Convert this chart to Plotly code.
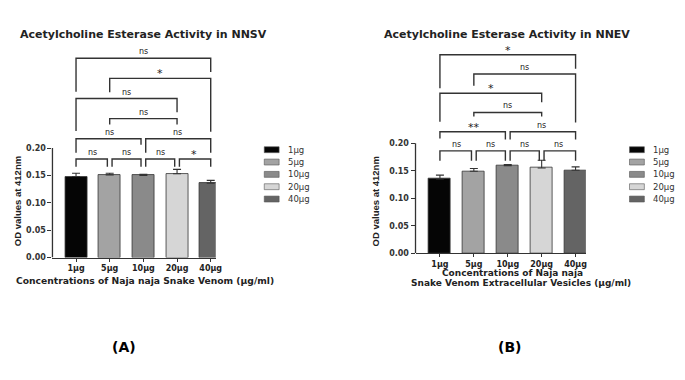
import plotly.graph_objects as go

# ---------------- data ----------------
categories = ["1µg", "5µg", "10µg", "20µg", "40µg"]
nnsv_mean = [0.148, 0.151, 0.150, 0.153, 0.136]
nnsv_sd = [0.006, 0.003, 0.002, 0.008, 0.005]
nnev_mean = [0.135, 0.149, 0.159, 0.155, 0.151]
nnev_sd = [0.007, 0.005, 0.002, 0.014, 0.006]

# comparisons: (group i, group j, significance label)
nnsv_comparisons = [(0, 1, "ns"), (1, 2, "ns"), (2, 3, "ns"), (3, 4, "*"),
                    (0, 2, "ns"), (2, 4, "ns"), (1, 3, "ns"), (0, 3, "ns"),
                    (1, 4, "*"), (0, 4, "ns")]
nnev_comparisons = [(0, 1, "ns"), (1, 2, "ns"), (2, 3, "ns"), (3, 4, "ns"),
                    (0, 2, "**"), (2, 4, "ns"), (1, 3, "ns"), (0, 3, "*"),
                    (1, 4, "ns"), (0, 4, "*")]

titles = ["Acetylcholine Esterase Activity in NNSV",
          "Acetylcholine Esterase Activity in NNEV"]
y_title = "OD values at 412nm"
y_ticks = [0.0, 0.05, 0.10, 0.15, 0.20]

# ---------------- styles / layout ----------------
W, H = 685, 380
FONT = "DejaVu Sans, Liberation Sans, sans-serif"
FONT_N = "Liberation Sans, Arial, sans-serif"
bar_colors = ["#050505", "#a3a3a3", "#8a8a8a", "#d6d6d6", "#646464"]
LINE = "#333333"

# bracket stacking (level per comparison) and leg drops in px (left, right)
levels = [0, 0, 0, 0, 1, 1, 2, 3, 4, 5]
drops_A = [(8, 8), (8, 8), (8, 8), (8, 8), (14, 6), (14, 14), (6, 6), (33, 14), (14, 54), (34, 14)]
drops_B = [(10, 10), (10, 10), (10, 10), (10, 10), (7, 8), (8, 8), (4, 4), (29, 9), (12, 49), (34, 14)]

# panel geometry in px
panels = [
    dict(x0=53.0, x1=218.0, xr=[-0.7, 4.15], ybot=261.0, ppu=555.0,
         base=0.180, step=0.0368, mean=nnsv_mean, sd=nnsv_sd,
         comps=nnsv_comparisons, drops=drops_A, xa="x", ya="y",
         title_x=145, xt=[("Concentrations of Naja naja Snake Venom (µg/ml)", 146, 284)],
         ytx=17, leg_x=267, label="(A)", lab_x=125),
    dict(x0=419.8, x1=591.8, xr=[-0.72, 4.3], ybot=256.7, ppu=558.0,
         base=0.186, step=0.0349, mean=nnev_mean, sd=nnev_sd,
         comps=nnev_comparisons, drops=drops_B, xa="x2", ya="y2",
         title_x=512, xt=[("Concentrations of Naja naja", 518, 277),
                          ("Snake Venom Extracellular Vesicles (µg/ml)", 526, 287)],
         ytx=379, leg_x=636, label="(B)", lab_x=515),
]
YTOP = 0.39


def px(x, y):
    return x / W, 1 - y / H


fig = go.Figure()
shapes, annotations = [], []
layout_axes = {}

for k, p in enumerate(panels):
    xs = list(range(len(categories)))
    fig.add_trace(go.Bar(
        x=xs, y=p["mean"], width=0.65, xaxis=p["xa"], yaxis=p["ya"],
        marker=dict(color=bar_colors, line=dict(color=LINE, width=0.8)),
        error_y=dict(type="data", array=p["sd"], arrayminus=[0] * len(xs),
                     symmetric=False, color=LINE, thickness=1.1, width=4),
        showlegend=False, hoverinfo="skip"))

    # brackets
    off = 0.07
    bx, by = [], []
    for n, (i, j, lab) in enumerate(p["comps"]):
        lv = levels[n]
        yh = p["base"] + lv * p["step"]
        same = [c for m, c in enumerate(p["comps"]) if levels[m] == lv and m != n]
        xl = i + (off if any(c[1] == i for c in same) else 0)
        xr = j - (off if any(c[0] == j for c in same) else 0)
        dl, dr = p["drops"][n]
        bx += [xl, xl, xr, xr, None]
        by += [yh - dl / p["ppu"], yh, yh, yh - dr / p["ppu"], None]
        annotations.append(dict(
            x=(i + j) / 2, y=yh, xref=p["xa"], yref=p["ya"], text=lab,
            showarrow=False, xanchor="center", yanchor="bottom",
            yshift=0 if lab == "ns" else -4,
            font=dict(family=FONT, size=8 if lab == "ns" else 11, color="#222")))
    fig.add_trace(go.Scatter(x=bx, y=by, mode="lines", xaxis=p["xa"], yaxis=p["ya"],
                             line=dict(color=LINE, width=1.4), showlegend=False,
                             hoverinfo="skip"))

    ax_suffix = "" if k == 0 else "2"
    ytop_px = p["ybot"] - YTOP * p["ppu"]
    layout_axes["xaxis" + ax_suffix] = dict(
        domain=[p["x0"] / W, p["x1"] / W], range=p["xr"], anchor=p["ya"],
        tickvals=list(range(len(categories))), ticktext=categories,
        ticks="outside", ticklen=3, tickcolor=LINE, showline=True,
        linecolor=LINE, linewidth=1.3, showgrid=False, zeroline=False,
        tickfont=dict(family=FONT, size=8, color="#222", weight="bold"))
    layout_axes["yaxis" + ax_suffix] = dict(
        domain=[1 - p["ybot"] / H, 1 - ytop_px / H], range=[0, YTOP],
        anchor=p["xa"], tickvals=y_ticks, ticktext=[f"{v:.2f}" for v in y_ticks],
        ticks="outside", ticklen=4, tickcolor=LINE, showline=False,
        showgrid=False, zeroline=False,
        tickfont=dict(family=FONT, size=8, color="#333", weight="bold"))
    # y-axis line only up to 0.20
    shapes.append(dict(type="line", xref=p["xa"] + " domain", x0=0, x1=0,
                       yref=p["ya"], y0=0, y1=max(y_ticks),
                       line=dict(color=LINE, width=1.3)))

    def add_text(x, y, text, size, weight="normal", color="#222", angle=0,
                 xanchor="center", family=FONT):
        ax, ay = px(x, y)
        annotations.append(dict(x=ax, y=ay, xref="paper", yref="paper", text=text,
                                showarrow=False, xanchor=xanchor, yanchor="middle",
                                textangle=angle,
                                font=dict(family=family, size=size, color=color,
                                          weight=weight)))

    add_text(p["title_x"], 35, titles[k], 11, "bold")
    for txt, tx, ty in p["xt"]:
        add_text(tx, ty, txt, 9.2 if k == 0 else 9, "bold")
    add_text(p["ytx"], 204, y_title, 9.5, "bold", angle=-90, family=FONT_N)
    # legend (manual)
    for r, (cat, col) in enumerate(zip(categories, bar_colors)):
        cy = 151.7 + r * 12.5
        shapes.append(dict(type="rect", xref="paper", yref="paper",
                           x0=p["leg_x"] / W, x1=(p["leg_x"] + 15) / W,
                           y0=1 - (cy + 3) / H, y1=1 - (cy - 3) / H,
                           fillcolor=col, line=dict(color="#555", width=0.6)))
        add_text(p["leg_x"] + 22, cy, cat, 8.5, color="#333", xanchor="left")
    add_text(p["lab_x"], 352, p["label"], 14, "bold", color="#000")

fig.update_layout(width=W, height=H, margin=dict(l=0, r=0, t=0, b=0),
                  paper_bgcolor="white", plot_bgcolor="white", bargap=0,
                  shapes=shapes, annotations=annotations, **layout_axes)

fig.write_html("out.html", config={"displayModeBar": False},
               post_script="document.body.style.margin='0';")
